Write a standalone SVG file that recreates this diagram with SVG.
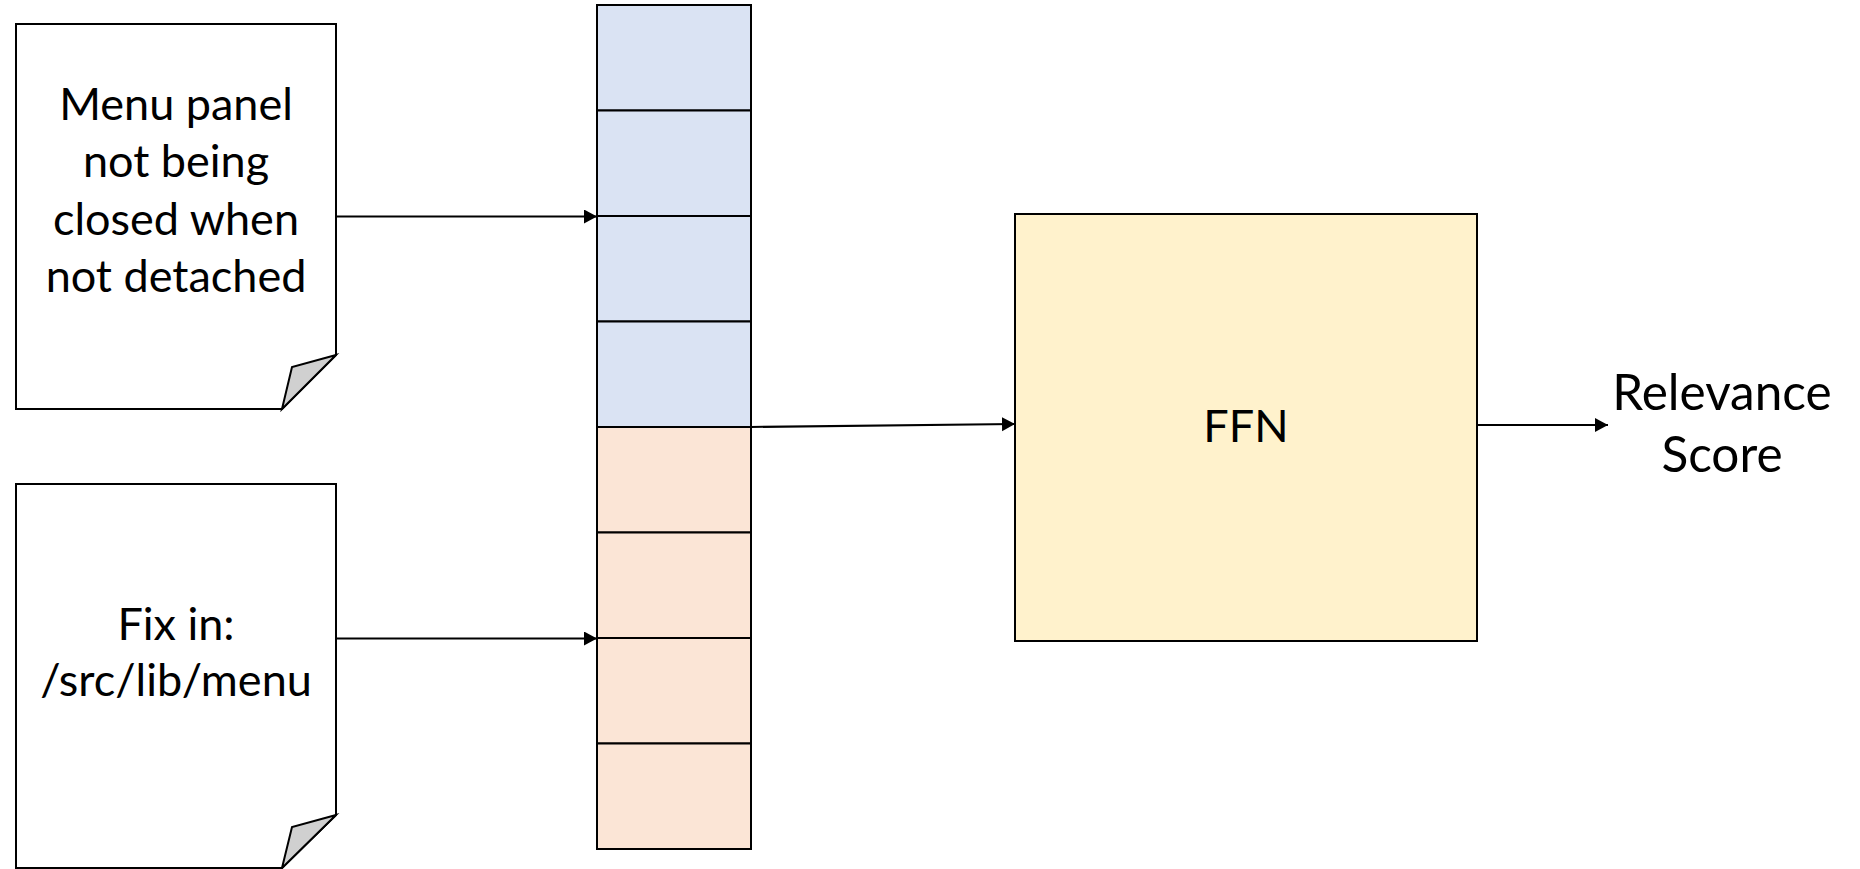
<svg xmlns="http://www.w3.org/2000/svg" width="1860" height="869" viewBox="0 0 1860 869">
  <style>
    .doc { fill: #FFFFFF; stroke: #000000; stroke-width: 2; stroke-linejoin: miter; }
    .fold { fill: #D0D0D0; stroke: #000000; stroke-width: 2; stroke-linejoin: miter; }
    .cell-q { fill: #DAE3F3; stroke: #000000; stroke-width: 2; }
    .cell-c { fill: #FBE5D6; stroke: #000000; stroke-width: 2; }
    .ffn { fill: #FFF2CC; stroke: #000000; stroke-width: 2; }
    .label { font-family: "Lato", "Open Sans", "Liberation Sans", sans-serif; font-size: 45px; fill: #000000; text-anchor: middle; }
    .label-big { font-size: 49.5px; }
    .edge { fill: none; stroke: #000000; stroke-width: 2; }
  </style>
  <defs>
    <marker id="arrow" markerUnits="userSpaceOnUse" markerWidth="14" markerHeight="15" refX="13" refY="7" orient="auto">
      <path d="M0,0 L13,7 L0,14 Z" fill="#000000"/>
    </marker>
  </defs>

  <rect width="1860" height="869" fill="#FFFFFF"/>

  <!-- bug report document -->
  <g id="doc-report">
    <path class="doc" d="M16,24 H336 V355 L282,409 H16 Z"/>
    <path class="fold" d="M336,355 L292,367 L282,409 Z"/>
    <text class="label" x="176" y="119.5">Menu panel</text>
    <text class="label" x="176" y="177">not being</text>
    <text class="label" x="176" y="234.5">closed when</text>
    <text class="label" x="176" y="292">not detached</text>
  </g>

  <!-- commit / fix document -->
  <g id="doc-fix">
    <path class="doc" d="M16,484 H336 V815 L282,868 H16 Z"/>
    <path class="fold" d="M336,815 L292,827 L282,868 Z"/>
    <text class="label" x="176" y="640">Fix in:</text>
    <text class="label" x="176" y="696">/src/lib/menu</text>
  </g>

  <!-- concatenated embedding vector -->
  <g id="embedding">
    <rect class="cell-q" x="597" y="5" width="154" height="105.5"/>
    <rect class="cell-q" x="597" y="110.5" width="154" height="105.5"/>
    <rect class="cell-q" x="597" y="216" width="154" height="105.5"/>
    <rect class="cell-q" x="597" y="321.5" width="154" height="105.5"/>
    <rect class="cell-c" x="597" y="427" width="154" height="105.5"/>
    <rect class="cell-c" x="597" y="532.5" width="154" height="105.5"/>
    <rect class="cell-c" x="597" y="638" width="154" height="105.5"/>
    <rect class="cell-c" x="597" y="743.5" width="154" height="105.5"/>
  </g>

  <!-- feed-forward network -->
  <g id="ffn">
    <rect class="ffn" x="1015" y="214" width="462" height="427"/>
    <text class="label" x="1246" y="442">FFN</text>
  </g>

  <!-- output label -->
  <g id="score">
    <text class="label label-big" x="1722" y="410">Relevance</text>
    <text class="label label-big" x="1722" y="472">Score</text>
  </g>

  <g id="connectors">
    <line class="edge" x1="336" y1="216.5" x2="597" y2="216.5" marker-end="url(#arrow)"/>
    <line class="edge" x1="336" y1="638.5" x2="597" y2="638.5" marker-end="url(#arrow)"/>
    <line class="edge" x1="751" y1="427" x2="1015" y2="424" marker-end="url(#arrow)"/>
    <line class="edge" x1="1477" y1="425" x2="1608" y2="425" marker-end="url(#arrow)"/>
  </g>
</svg>
